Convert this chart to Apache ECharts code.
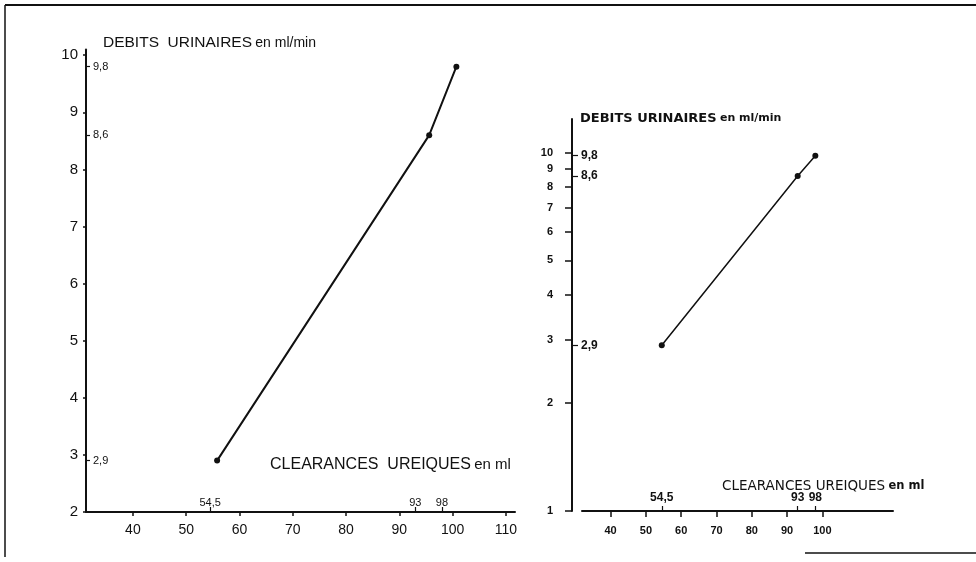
<!DOCTYPE html>
<html><head><meta charset="utf-8">
<script src="https://cdn.jsdelivr.net/npm/echarts@6/dist/echarts.min.js"></script>
<style>html,body{margin:0;padding:0;background:#fff}#c{width:976px;height:562px}</style>
</head><body><div id="c"></div><script>
// ---- data ----
const xTicksLeft = [40, 50, 60, 70, 80, 90, 100, 110];
const xTicksRight = [40, 50, 60, 70, 80, 90, 100];
const yTicksLeft = [2, 3, 4, 5, 6, 7, 8, 9, 10];
const yTicksRight = [1, 2, 3, 4, 5, 6, 7, 8, 9, 10];
const clearances = [54.5, 93, 98];          // clearances uréiques (ml)
const debits = [2.9, 8.6, 9.8];             // débits urinaires (ml/min)
const leftDrawnClearances = [55.8, 95.6, 100.7]; // where the left graph's points are drawn

const INK = '#111';
const comma = v => String(v).replace('.', ',');

const leftData = leftDrawnClearances.map((x, i) => [x, debits[i]]);
const rightData = clearances.map((x, i) => [x, debits[i]]);

const chart = echarts.init(document.getElementById('c'), null, {renderer: 'canvas'});

const baseLabel = {color: INK, fontFamily: 'Liberation Sans'};

chart.setOption({
  animation: false,
  backgroundColor: '#fff',
  grid: [
    {left: 86, right: 461, top: 49.5, bottom: 50},
    {left: 582, right: 83, top: 119, bottom: 51}
  ],
  xAxis: [
    {gridIndex: 0, type: 'value', min: 31.2, max: 111.7, position: 'bottom',
     axisLine: {onZero: false, lineStyle: {color: INK, width: 2}},
     splitLine: {show: false},
     axisTick: {customValues: xTicksLeft, length: 4, lineStyle: {color: INK, width: 1.5}},
     axisLabel: Object.assign({customValues: xTicksLeft, fontSize: 14, margin: 11}, baseLabel)},
    {gridIndex: 0, type: 'value', min: 31.2, max: 111.7, position: 'bottom',
     axisLine: {show: false, onZero: false},
     splitLine: {show: false},
     axisTick: {inside: true, customValues: clearances, length: 5, lineStyle: {color: INK, width: 1.2}},
     axisLabel: Object.assign({inside: true, customValues: clearances, formatter: comma, fontSize: 11, margin: 4}, baseLabel)},
    {gridIndex: 1, type: 'value', min: 31.9, max: 120, position: 'bottom',
     axisLine: {onZero: false, lineStyle: {color: INK, width: 2}},
     splitLine: {show: false},
     axisTick: {customValues: xTicksRight, length: 6, lineStyle: {color: INK, width: 1.5}},
     axisLabel: Object.assign({customValues: xTicksRight, fontSize: 11, fontWeight: 'bold', margin: 14}, baseLabel)},
    {gridIndex: 1, type: 'value', min: 31.9, max: 120, position: 'bottom',
     axisLine: {show: false, onZero: false},
     splitLine: {show: false},
     axisTick: {inside: true, customValues: clearances, length: 5, lineStyle: {color: INK, width: 1.2}},
     axisLabel: Object.assign({inside: true, customValues: clearances, formatter: comma, fontSize: 12, fontWeight: 'bold', margin: 7}, baseLabel)}
  ],
  yAxis: [
    {gridIndex: 0, type: 'value', min: 2, max: 10.1, position: 'left',
     axisLine: {show: true, onZero: false, lineStyle: {color: INK, width: 2}},
     splitLine: {show: false},
     axisTick: {show: true, customValues: yTicksLeft, length: 3, lineStyle: {color: INK, width: 1.5}},
     axisLabel: Object.assign({customValues: yTicksLeft, fontSize: 15, margin: 8}, baseLabel)},
    {gridIndex: 0, type: 'value', min: 2, max: 10.1, position: 'left',
     axisLine: {show: false, onZero: false},
     splitLine: {show: false},
     axisTick: {show: true, inside: true, customValues: debits, length: 4, lineStyle: {color: INK, width: 1.2}},
     axisLabel: Object.assign({inside: true, customValues: debits, formatter: comma, fontSize: 11, margin: 7}, baseLabel)},
    {gridIndex: 1, type: 'log', logBase: 10, min: 1, max: 12.4, position: 'left', offset: 10,
     axisLine: {show: true, onZero: false, lineStyle: {color: INK, width: 2}},
     splitLine: {show: false},
     minorTick: {show: false},
     axisTick: {show: true, customValues: yTicksRight, length: 7, lineStyle: {color: INK, width: 1.5}},
     axisLabel: Object.assign({customValues: yTicksRight, fontSize: 11, fontWeight: 'bold', margin: 19}, baseLabel)},
    {gridIndex: 1, type: 'log', logBase: 10, min: 1, max: 12.4, position: 'left', offset: 10,
     axisLine: {show: false, onZero: false},
     splitLine: {show: false},
     axisTick: {show: true, inside: true, customValues: debits, length: 6, lineStyle: {color: INK, width: 1.2}},
     axisLabel: Object.assign({inside: true, customValues: debits, formatter: comma, fontSize: 12, fontWeight: 'bold', margin: 9}, baseLabel)}
  ],
  series: [
    {type: 'line', xAxisIndex: 0, yAxisIndex: 0, data: leftData,
     symbol: 'circle', symbolSize: 6, color: INK,
     lineStyle: {color: INK, width: 2}, itemStyle: {color: INK}},
    {type: 'line', xAxisIndex: 2, yAxisIndex: 2, data: rightData,
     symbol: 'circle', symbolSize: 6, color: INK,
     lineStyle: {color: INK, width: 1.5}, itemStyle: {color: INK}}
  ],
  graphic: [
    {type: 'line', shape: {x1: 5, y1: 5, x2: 976, y2: 5}, style: {stroke: INK, lineWidth: 2}},
    {type: 'line', shape: {x1: 5, y1: 5, x2: 5, y2: 557}, style: {stroke: INK, lineWidth: 1.5}},
    {type: 'line', shape: {x1: 805, y1: 553, x2: 976, y2: 553}, style: {stroke: INK, lineWidth: 1.5}},
    {type: 'text', left: 103, top: 35, style: {
      text: '{a|DEBITS  URINAIRES} {b|en ml/min}',
      rich: {a: {fontSize: 15.5, fontFamily: 'Liberation Sans', fill: INK},
             b: {fontSize: 14, fontFamily: 'Liberation Sans', fill: INK}}}},
    {type: 'text', left: 270, top: 457, style: {
      text: '{a|CLEARANCES  UREIQUES} {b|en ml}',
      rich: {a: {fontSize: 16, fontFamily: 'Liberation Sans', fill: INK},
             b: {fontSize: 15, fontFamily: 'Liberation Sans', fill: INK}}}},
    {type: 'text', left: 580, top: 112, style: {
      text: '{a|DEBITS URINAIRES} {b|en ml/min}',
      rich: {a: {fontSize: 13, fontWeight: 'bold', fontFamily: 'DejaVu Sans', fill: INK},
             b: {fontSize: 11, fontWeight: 'bold', fontFamily: 'DejaVu Sans', fill: INK}}}},
    {type: 'text', left: 722, top: 479, style: {
      text: '{a|CLEARANCES UREIQUES} {b|en ml}',
      rich: {a: {fontSize: 13.5, fontFamily: 'DejaVu Sans', fill: INK},
             b: {fontSize: 11.5, fontWeight: 'bold', fontFamily: 'DejaVu Sans', fill: INK}}}}
  ]
});
</script></body></html>
